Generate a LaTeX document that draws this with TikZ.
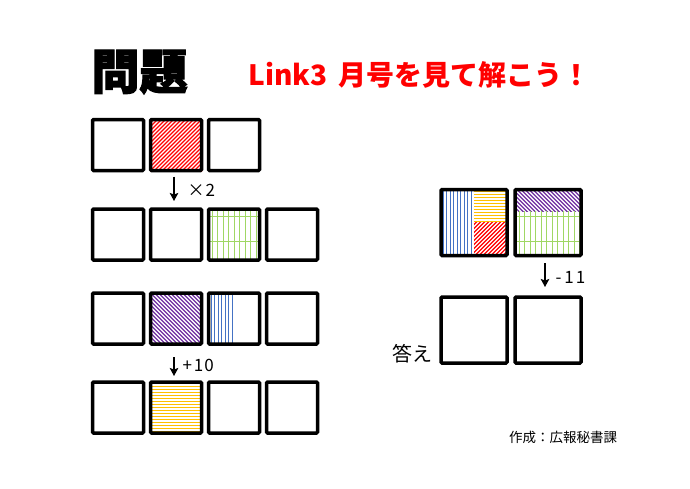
\documentclass[tikz,border=0pt]{standalone}
\usepackage{fontspec}
\usepackage{tikz}
\usetikzlibrary{arrows.meta,positioning}
\newfontfamily\jp{Noto Sans CJK JP}
\newfontfamily\jpheavy[BoldFeatures={FakeBold=2.5}]{Noto Sans CJK JP}
\definecolor{hatchred}{RGB}{255,0,0}
\definecolor{hatchpurple}{RGB}{112,48,160}
\definecolor{hatchgreen}{RGB}{160,215,100}
\definecolor{hatchblue}{RGB}{68,114,196}
\definecolor{hatchyellow}{RGB}{255,192,0}

\begin{document}
\begin{tikzpicture}[x=1pt, y=-1pt, >={Stealth[length=8pt,width=8.5pt,inset=1.5pt]}, font=\jp,
		cell/.style={draw, line width=3.5pt, rounded corners=1pt, minimum size=51pt, inner sep=0pt, outer sep=0pt},
		bigcell/.style={cell, minimum size=66pt},
		steparrow/.style={->, line width=2.6pt},
		opnote/.style={anchor=west, font=\jp\fontsize{17}{17}\selectfont}]
		\useasboundingbox (0,0) rectangle (690,488);
		% headings
		\node[anchor=west] (title) at (88,72) {\jpheavy\bfseries\fontsize{48}{48}\selectfont 問題};
		\node[anchor=west, text=hatchred] (hint) at (245,75) {\fontsize{28}{28}\selectfont\bfseries Link3\hspace{11pt}月号を見て解こう！};
		% (a) red hatch
		\begin{scope}[shift={(176,145)}]
			\clip (-26,-26) rectangle (26,26);
			\foreach \s in {-56,-52,...,56} \draw[hatchred, line width=1.3pt] (\s-30,30) -- ++(60,-60);
		\end{scope}
		% (b) green grid
		\begin{scope}[shift={(234,234.5)}]
			\clip (-26,-26) rectangle (26,26);
			\foreach \s in {-22,-16.5,...,24} \draw[hatchgreen, line width=0.9pt] (\s,-26) -- (\s,26);
			\foreach \s in {-18.5,6.5} \draw[hatchgreen, line width=0.7pt] (-26,\s) -- (26,\s);
		\end{scope}
		% (c) purple hatch
		\begin{scope}[shift={(176,318.5)}]
			\clip (-26,-26) rectangle (26,26);
			\foreach \s in {-56,-52,...,56} \draw[hatchpurple, line width=1.3pt] (\s-30,-30) -- ++(60,60);
		\end{scope}
		% (d) blue stripes, left half
		\begin{scope}[shift={(234,318.5)}]
			\clip (-26,-26) rectangle (0,26);
			\foreach \s in {-23,-19.5,...,0} \draw[hatchblue, line width=1pt] (\s,-26) -- (\s,26);
		\end{scope}
		% (e) yellow stripes
		\begin{scope}[shift={(176,407.5)}]
			\clip (-26,-26) rectangle (26,26);
			\foreach \s in {-24,-21,...,26} \draw[hatchyellow, line width=1pt] (-26,\s) -- (26,\s);
		\end{scope}
		% (f) mixed box: blue, yellow, red
		\begin{scope}[shift={(474,222.5)}]
			\begin{scope}
				\clip (-33,-33) rectangle (-2,33);
				\foreach \s in {-31,-27.5,...,-2} \draw[hatchblue, line width=1pt] (\s,-33) -- (\s,33);
			\end{scope}
			\begin{scope}
				\clip (0,-33) rectangle (33,0);
				\foreach \s in {-31,-28,...,0} \draw[hatchyellow, line width=1pt] (0,\s) -- (33,\s);
			\end{scope}
			\begin{scope}
				\clip (0,0) rectangle (33,33);
				\foreach \s in {-32,-28,...,36} \draw[hatchred, line width=1.3pt] (\s,34) -- ++(36,-36);
			\end{scope}
		\end{scope}
		% (g) mixed box: purple, green
		\begin{scope}[shift={(548,222.5)}]
			\begin{scope}
				\clip (-33,-33) rectangle (33,-11.5);
				\foreach \s in {-60,-56,...,40} \draw[hatchpurple, line width=1.3pt] (\s,-34) -- ++(24,24);
			\end{scope}
			\begin{scope}
				\clip (-33,-11.5) rectangle (33,33);
				\foreach \s in {-29,-23.5,...,33} \draw[hatchgreen, line width=0.9pt] (\s,-11.5) -- (\s,33);
				\foreach \s in {-6.5,18.5} \draw[hatchgreen, line width=0.7pt] (-33,\s) -- (33,\s);
			\end{scope}
		\end{scope}
		% boxes, left column
		\foreach \i/\x in {1/118,2/176,3/234} \node[cell] (r1c\i) at (\x,145) {};
		\foreach \i/\x in {1/118,2/176,3/234,4/292} {
			\node[cell] (r2c\i) at (\x,234.5) {};
			\node[cell] (r3c\i) at (\x,318.5) {};
			\node[cell] (r4c\i) at (\x,407.5) {};
		}
		% boxes, right column
		\node[bigcell] (q1) at (474,222.5) {};
		\node[bigcell] (q2) at (548,222.5) {};
		\node[bigcell] (ans1) at (474,330) {};
		\node[bigcell] (ans2) at (548,330) {};
		% steps
		\draw[steparrow, shorten <=6pt, shorten >=8pt] ([xshift=-2pt]r1c2.south) -- ([xshift=-2pt]r2c2.north);
		\node[opnote] (times) at (184,190) {×\hspace{1pt}2};
		\draw[steparrow, shorten <=13pt, shorten >=6pt] ([xshift=-2pt]r3c2.south) -- ([xshift=-2pt]r4c2.north);
		\node[opnote] (plus) at (179,365) {+\hspace{2pt}1\hspace{1pt}0};
		\draw[steparrow, shorten <=7.5pt, shorten >=10pt] ([xshift=-3pt]q2.south) -- ([xshift=-3pt]ans2.north);
		\node[opnote] (minus) at (552,277) {-\hspace{3pt}1\hspace{2pt}1};
		\node[anchor=east, font=\jp\fontsize{20}{20}\selectfont] (answer) at (436,354) {答え};
		% credit
		\node[font=\jp\fontsize{13.5}{13.5}\selectfont] (credit) at (563,437) {作成：広報秘書課};
	\end{tikzpicture}
\end{document}
